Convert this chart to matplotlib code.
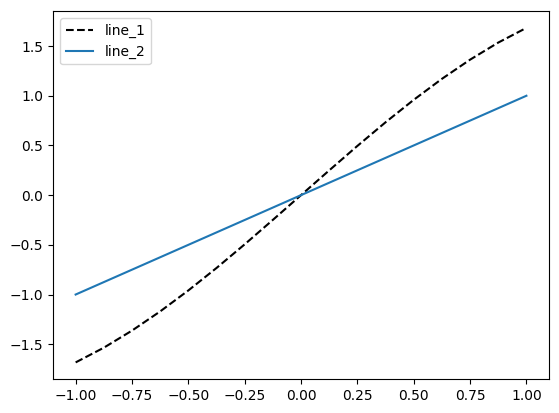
import matplotlib
matplotlib.use('Agg')
import matplotlib.pyplot as plt

# values
x = [-1.0, -0.875, -0.75, -0.625, -0.5, -0.375, -0.25, -0.125, 0.0,
     0.125, 0.25, 0.375, 0.5, 0.625, 0.75, 0.875, 1.0]
line_1 = [-1.683, -1.535, -1.363, -1.170, -0.959, -0.733, -0.495, -0.249, 0.0,
          0.249, 0.495, 0.733, 0.959, 1.170, 1.363, 1.535, 1.683]
line_2 = [-1.0, -0.875, -0.75, -0.625, -0.5, -0.375, -0.25, -0.125, 0.0,
          0.125, 0.25, 0.375, 0.5, 0.625, 0.75, 0.875, 1.0]

fig, ax = plt.subplots(figsize=(5.59, 4.13), dpi=100)
fig.subplots_adjust(left=0.095, right=0.982, top=0.973, bottom=0.082)

ax.plot(x, line_1, 'k--', label='line_1')
ax.plot(x, line_2, label='line_2')
ax.legend(loc='upper left')

fig.savefig('out.png', dpi=100)
